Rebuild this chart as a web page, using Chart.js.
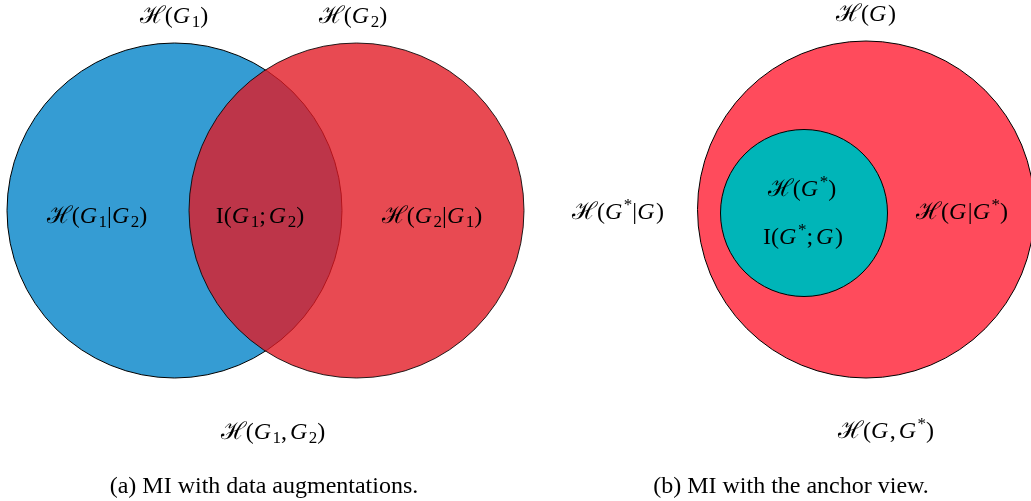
<!DOCTYPE html>
<html>
<head>
<meta charset="utf-8">
<script src="https://cdn.jsdelivr.net/npm/chart.js@4.4.1/dist/chart.umd.min.js"></script>
<style>
  html, body { margin: 0; padding: 0; background: #fff; }
  #wrap { width: 1031px; height: 501px; }
</style>
</head>
<body>
<div id="wrap"><canvas id="venn" width="1031" height="501"></canvas></div>
<script>
/* --- circles (centre x, centre y, radius), in page units --- */
var leftSets   = ['H(G1)', 'H(G2)'];
var leftX      = [174.5, 356.5];
var leftY      = [210.5, 210.5];
var leftR      = [167.5, 167.5];

var rightSets  = ['H(G)', 'H(G*)'];
var rightX     = [866, 804];
var rightY     = [209.5, 213];
var rightR     = [168.5, 83.5];

/* --- labels: markup text ( _x subscript, ^x superscript ) --- */
var labelText = [
  'ℋ(G_1)', 'ℋ(G_2)', 'ℋ(G_1|G_2)', 'I(G_1;G_2)', 'ℋ(G_2|G_1)', 'ℋ(G_1,G_2)',
  'ℋ(G)', 'ℋ(G^*|G)', 'ℋ(G^*)', 'I(G^*;G)', 'ℋ(G|G^*)', 'ℋ(G,G^*)'
];
var labelX = [174, 353, 97, 260, 432, 273, 866, 618, 802, 803, 962, 886];
var labelY = [17, 17, 217, 217, 217, 433, 15, 213, 190, 238, 213, 432];

var captionText = ['(a) MI with data augmentations.', '(b) MI with the anchor view.'];
var captionX = [264, 791];
var captionY = [487, 487];

function pts(xs, ys, rs) {
  var out = [];
  for (var i = 0; i < xs.length; i++) out.push({ x: xs[i], y: ys[i], r: rs[i] });
  return out;
}

/* bubble chart without the automatic radius padding round the chart area */
class VennController extends Chart.BubbleController {
  getMaxOverflow() { return 0; }
}
VennController.id = 'venn';
VennController.defaults = Chart.BubbleController.defaults;
VennController.overrides = Chart.BubbleController.overrides;
Chart.register(VennController);

var MATH = '"Liberation Serif", "DejaVu Serif", serif';

/* --- small rich text drawer for the math labels --- */
function mathParts(s) {
  var parts = [];
  for (var i = 0; i < s.length; i++) {
    var c = s[i], mode = 'n';
    if (c === '_' || c === '^') { mode = c === '_' ? 'sub' : 'sup'; i++; c = s[i]; }
    parts.push({ c: c, mode: mode, it: /[A-Z]/.test(c) && c !== 'I' });
  }
  return parts;
}

function partFont(p, size) {
  var sz = p.mode === 'n' ? size : Math.round(size * 0.72);
  if (p.c === 'ℋ') return size + 'px "DejaVu Serif", serif';
  return (p.it ? 'italic ' : '') + sz + 'px ' + MATH;
}

function drawMath(ctx, s, cx, cy, size) {
  var parts = mathParts(s), w = 0, i;
  for (i = 0; i < parts.length; i++) {
    ctx.font = partFont(parts[i], size);
    parts[i].w = ctx.measureText(parts[i].c).width + (parts[i].it ? 1.5 : 0) + (parts[i].c === ';' || parts[i].c === ',' ? 3 : 0);
    w += parts[i].w;
  }
  var x = cx - w / 2;
  ctx.textAlign = 'left';
  ctx.textBaseline = 'middle';
  for (i = 0; i < parts.length; i++) {
    var p = parts[i];
    ctx.font = partFont(p, size);
    var dy = p.mode === 'sub' ? size * 0.25 : (p.mode === 'sup' ? -size * 0.3 : 0);
    ctx.fillText(p.c, x, cy + dy);
    x += p.w;
  }
}

var labelPlugin = {
  id: 'vennLabels',
  afterDatasetsDraw: function(chart) {
    var ctx = chart.ctx, xs = chart.scales.x, ys = chart.scales.y;
    ctx.save();
    ctx.fillStyle = '#000';
    for (var i = 0; i < labelText.length; i++) {
      drawMath(ctx, labelText[i], xs.getPixelForValue(labelX[i]), ys.getPixelForValue(labelY[i]), 24);
    }
    ctx.font = '24px "Liberation Serif", "Times New Roman", serif';
    ctx.textAlign = 'center';
    ctx.textBaseline = 'middle';
    for (var j = 0; j < captionText.length; j++) {
      ctx.fillText(captionText[j], xs.getPixelForValue(captionX[j]), ys.getPixelForValue(captionY[j]));
    }
    ctx.restore();
  }
};

new Chart(document.getElementById('venn'), {
  type: 'venn',
  data: {
    datasets: [
      { label: leftSets[0], data: pts([leftX[0]], [leftY[0]], [leftR[0]]),
        backgroundColor: '#359cd3', borderColor: '#000', borderWidth: 1, order: 4 },
      { label: leftSets[1], data: pts([leftX[1]], [leftY[1]], [leftR[1]]),
        backgroundColor: 'rgba(226,26,36,0.79)', borderColor: 'rgba(0,0,0,0.85)', borderWidth: 1, order: 3 },
      { label: rightSets[0], data: pts([rightX[0]], [rightY[0]], [rightR[0]]),
        backgroundColor: '#ff4b5c', borderColor: '#000', borderWidth: 1, order: 2 },
      { label: rightSets[1], data: pts([rightX[1]], [rightY[1]], [rightR[1]]),
        backgroundColor: '#00b5b8', borderColor: '#000', borderWidth: 1, order: 1 }
    ]
  },
  options: {
    responsive: false,
    animation: false,
    events: [],
    devicePixelRatio: 1,
    layout: { padding: 0 },
    plugins: { legend: { display: false }, tooltip: { enabled: false } },
    scales: {
      x: { type: 'linear', min: 0, max: 1031, display: false },
      y: { type: 'linear', min: 0, max: 501, reverse: true, display: false }
    }
  },
  plugins: [labelPlugin]
});
</script>
</body>
</html>
